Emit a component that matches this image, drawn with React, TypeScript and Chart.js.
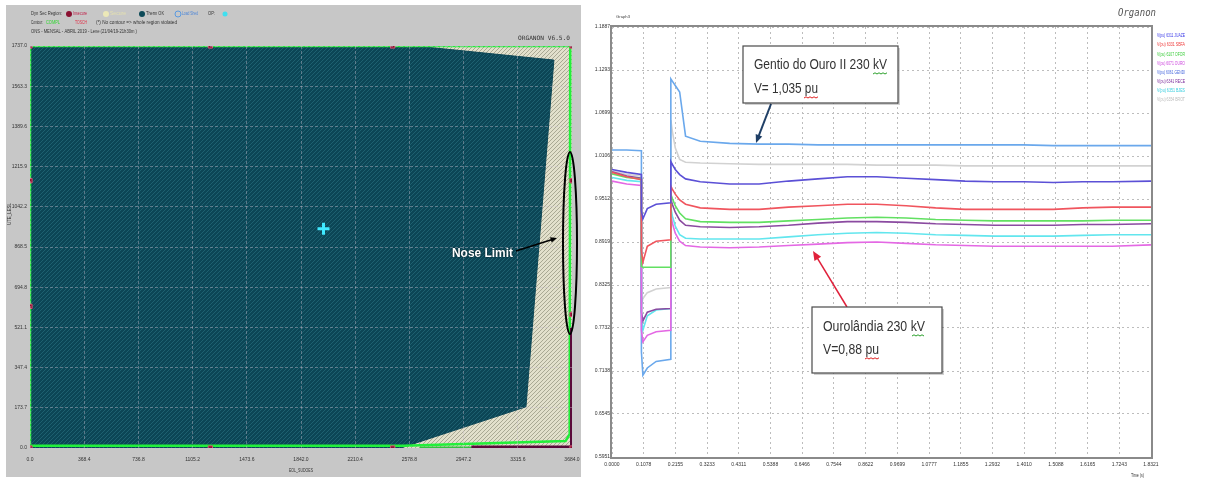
import React, { useEffect, useRef } from "react";
import { Chart, registerables } from "chart.js";
Chart.register(...registerables);

const FONT = "'Liberation Sans', Arial, sans-serif";
const MONO = "'DejaVu Sans Mono', 'Liberation Mono', monospace";

// ---------------- Left panel: dynamic security region ----------------
const REGION_X_TICKS = [0, 368.4, 736.8, 1105.2, 1473.6, 1842.0, 2210.4, 2578.8, 2947.2, 3315.6, 3684.0];
const REGION_Y_TICKS = [0, 173.7, 347.4, 521.1, 694.8, 868.5, 1042.2, 1215.9, 1389.6, 1563.3, 1737.0];
const SECURE_X = [0, 0, 2620, 3561, 3371, 2520];
const SECURE_Y = [0, 1737, 1737, 1676, 178, 0];
const CONTOUR_A_X = [0, 0, 3684];
const CONTOUR_A_Y = [8, 1737, 1737];
const CONTOUR_B_X = [0, 2540, 3640, 3668, 3672];
const CONTOUR_B_Y = [10, 10, 30, 60, 1737];
const CONTOUR_C_X = [2650, 3684];
const CONTOUR_C_Y = [2, 2];
const VIOLATED_X = [3000, 3684, 3684];
const VIOLATED_Y = [2, 2, 520];
const MARKER_X = [0, 1226, 2465, 3684, 0, 1226, 2465, 3684, 0, 0, 3684, 3684];
const MARKER_Y = [1737, 1737, 1737, 1737, 0, 0, 0, 0, 1155, 612, 1155, 577];
const OP_X = [1995];
const OP_Y = [947];

// ---------------- Right panel: voltage time series ----------------
const TIME_TICKS = [0, 0.1078, 0.2155, 0.3233, 0.4311, 0.5388, 0.6466, 0.7544, 0.8622, 0.9699, 1.0777, 1.1855, 1.2932, 1.401, 1.5088, 1.6165, 1.7243, 1.8321];
const V_TICKS = [0.5951, 0.6545, 0.7138, 0.7732, 0.8325, 0.8919, 0.9512, 1.0106, 1.0699, 1.1293, 1.1887];
const TIME = [0, 0.05, 0.1, 0.1, 0.105, 0.12, 0.15, 0.2, 0.2, 0.205, 0.215, 0.23, 0.25, 0.3, 0.4, 0.5, 0.6, 0.7, 0.8, 0.9, 1.0, 1.1, 1.2, 1.3, 1.4, 1.5, 1.6, 1.7, 1.8321];
const V_JUAZE = [0.992, 0.988, 0.985, 0.935, 0.924, 0.938, 0.944, 0.946, 1.003, 0.999, 0.992, 0.985, 0.979, 0.975, 0.972, 0.972, 0.976, 0.979, 0.982, 0.982, 0.98, 0.978, 0.976, 0.975, 0.975, 0.974, 0.975, 0.975, 0.976];
const V_SBFA = [0.988, 0.982, 0.978, 0.88, 0.864, 0.886, 0.893, 0.895, 0.969, 0.965, 0.958, 0.95, 0.944, 0.939, 0.937, 0.937, 0.94, 0.942, 0.944, 0.944, 0.942, 0.939, 0.937, 0.937, 0.937, 0.937, 0.939, 0.94, 0.94];
const V_OFOR = [0.986, 0.981, 0.979, 0.858, 0.857, 0.857, 0.857, 0.857, 0.958, 0.952, 0.942, 0.932, 0.924, 0.92, 0.919, 0.919, 0.921, 0.923, 0.925, 0.926, 0.925, 0.923, 0.922, 0.921, 0.921, 0.921, 0.921, 0.922, 0.922];
const V_OURO = [0.976, 0.972, 0.97, 0.77, 0.754, 0.763, 0.768, 0.77, 0.93, 0.918, 0.904, 0.893, 0.887, 0.885, 0.884, 0.885, 0.887, 0.889, 0.891, 0.892, 0.89, 0.888, 0.887, 0.886, 0.886, 0.886, 0.886, 0.886, 0.888];
const V_GENDI = [1.019, 1.019, 1.018, 0.74, 0.708, 0.718, 0.727, 0.73, 1.117, 1.114, 1.108, 1.099, 1.038, 1.031, 1.028, 1.027, 1.027, 1.026, 1.026, 1.026, 1.026, 1.026, 1.026, 1.026, 1.026, 1.025, 1.025, 1.025, 1.025];
const V_RECE = [0.989, 0.983, 0.98, 0.795, 0.783, 0.795, 0.799, 0.8, 0.951, 0.944, 0.933, 0.922, 0.915, 0.913, 0.912, 0.913, 0.915, 0.918, 0.92, 0.92, 0.919, 0.917, 0.916, 0.915, 0.915, 0.915, 0.916, 0.916, 0.917];
const V_BJES = [0.981, 0.977, 0.975, 0.79, 0.77, 0.79, 0.798, 0.8, 0.94, 0.928, 0.914, 0.902, 0.897, 0.896, 0.896, 0.896, 0.899, 0.902, 0.904, 0.905, 0.904, 0.902, 0.901, 0.9, 0.9, 0.9, 0.901, 0.902, 0.902];
const V_BROT = [0.99, 0.985, 0.983, 0.805, 0.814, 0.822, 0.827, 0.829, 1.06, 1.045, 1.022, 1.006, 1.002, 1.001, 1.0, 0.999, 0.999, 0.999, 0.999, 0.998, 0.998, 0.998, 0.997, 0.997, 0.997, 0.997, 0.997, 0.997, 0.997];
const SERIES_NAMES = ["V(pu) 6311 JUAZE", "V(pu) 6331 SBFA", "V(pu) 6107 OFOR", "V(pu) 6071 OURO", "V(pu) 6061 GENDI", "V(pu) 6341 RECE", "V(pu) 6351 BJES", "V(pu) 6354 BROT"];
const SERIES_VALUES = [V_JUAZE, V_SBFA, V_OFOR, V_OURO, V_GENDI, V_RECE, V_BJES, V_BROT];
const SERIES_COLORS = ["#5b50d6", "#f0555e", "#62e062", "#e468e4", "#6aa8ec", "#8a4aa0", "#62e6ee", "#d2d2d2"];
const LEGEND_COLORS = ["#3a3ae8", "#ee3a3a", "#3acc3a", "#cc44dd", "#4466dd", "#7a2a9a", "#33ccdd", "#bbbbbb"];

function pts(xs: number[], ys: number[]) {
  return xs.map((x, i) => ({ x, y: ys[i] }));
}

function makeHatch(base: string, line: string, size: number) {
  const c = document.createElement("canvas");
  c.width = size;
  c.height = size;
  const g = c.getContext("2d")!;
  g.fillStyle = base;
  g.fillRect(0, 0, size, size);
  g.strokeStyle = line;
  g.lineWidth = 1;
  g.beginPath();
  g.moveTo(-1, size + 1);
  g.lineTo(size + 1, -1);
  g.moveTo(-1, 1);
  g.lineTo(1, -1);
  g.moveTo(size - 1, size + 1);
  g.lineTo(size + 1, size - 1);
  g.stroke();
  return g.createPattern(c, "repeat")!;
}

function fitText(ctx: CanvasRenderingContext2D, text: string, x: number, y: number, w: number, font: string, color: string) {
  ctx.save();
  ctx.font = font;
  ctx.fillStyle = color;
  ctx.textBaseline = "middle";
  ctx.textAlign = "left";
  const m = ctx.measureText(text).width || 1;
  ctx.translate(x, y);
  ctx.scale(w / m, 1);
  ctx.fillText(text, 0, 0);
  ctx.restore();
}

function arrow(ctx: CanvasRenderingContext2D, x1: number, y1: number, x2: number, y2: number, color: string, width: number, head: number) {
  ctx.save();
  ctx.strokeStyle = color;
  ctx.fillStyle = color;
  ctx.lineWidth = width;
  const a = Math.atan2(y2 - y1, x2 - x1);
  ctx.beginPath();
  ctx.moveTo(x1, y1);
  ctx.lineTo(x2 - Math.cos(a) * head * 0.6, y2 - Math.sin(a) * head * 0.6);
  ctx.stroke();
  ctx.beginPath();
  ctx.moveTo(x2, y2);
  ctx.lineTo(x2 - head * Math.cos(a - 0.4), y2 - head * Math.sin(a - 0.4));
  ctx.lineTo(x2 - head * Math.cos(a + 0.4), y2 - head * Math.sin(a + 0.4));
  ctx.closePath();
  ctx.fill();
  ctx.restore();
}

function squiggle(ctx: CanvasRenderingContext2D, x1: number, x2: number, y: number, color: string) {
  ctx.save();
  ctx.strokeStyle = color;
  ctx.lineWidth = 1;
  ctx.beginPath();
  ctx.moveTo(x1, y);
  let up = true;
  for (let x = x1 + 2; x <= x2; x += 2) {
    ctx.lineTo(x, up ? y - 1.2 : y);
    up = !up;
  }
  ctx.stroke();
  ctx.restore();
}

function dot(ctx: CanvasRenderingContext2D, x: number, y: number, r: number, fill: string | null, stroke: string | null) {
  ctx.beginPath();
  ctx.arc(x, y, r, 0, Math.PI * 2);
  if (fill) {
    ctx.fillStyle = fill;
    ctx.fill();
  }
  if (stroke) {
    ctx.strokeStyle = stroke;
    ctx.lineWidth = 1;
    ctx.stroke();
  }
}

export default function App() {
  const leftRef = useRef<HTMLCanvasElement>(null);
  const rightRef = useRef<HTMLCanvasElement>(null);

  useEffect(() => {
    const darkHatch = makeHatch("#0c4656", "#1e6070", 4);
    const beigeHatch = makeHatch("#e2e0cc", "#a9a994", 4);

    // ---------- LEFT ----------
    const OX = 6, OY = 5; // canvas page offset
    const leftPlugin = {
      id: "leftDecor",
      beforeDraw(chart: any) {
        const ctx = chart.ctx;
        ctx.save();
        ctx.fillStyle = "#c7c7c7";
        ctx.fillRect(0, 0, chart.width, chart.height);
        ctx.restore();
      },
      beforeDatasetsDraw(chart: any) {
        const { ctx, chartArea: a } = chart;
        ctx.save();
        ctx.fillStyle = beigeHatch;
        ctx.fillRect(a.left, a.top, a.right - a.left, a.bottom - a.top);
        ctx.restore();
      },
      afterDraw(chart: any) {
        const ctx = chart.ctx;
        const f = (t: string, px: number, py: number, w: number, color: string, font = `5px ${FONT}`) =>
          fitText(ctx, t, px - OX, py - OY, w, font, color);
        // header
        f("Dyn Sec Region:", 31, 14, 31, "#333");
        dot(ctx, 69 - OX, 14 - OY, 3, "#8a1030", null);
        f("Insecure", 73, 14, 14, "#c02048");
        dot(ctx, 106 - OX, 14 - OY, 3, "#ece8b8", null);
        f("Secure", 110, 14, 16, "#e4e0b0");
        dot(ctx, 142 - OX, 14 - OY, 3, "#0d4a58", null);
        f("Therm OK", 146, 14, 18, "#333");
        dot(ctx, 178 - OX, 14 - OY, 3, null, "#5a9ae0");
        f("Load Shed", 182, 14, 16, "#4a84d8");
        f("OP:", 208, 14, 7, "#333");
        dot(ctx, 225 - OX, 14 - OY, 2.5, "#40e0f0", null);
        f("Contour:", 31, 23, 12, "#333");
        f("COMPL", 46, 23, 14, "#30d830");
        f("TOSCH", 75, 23, 12, "#e03048");
        f("(*) No contour => whole region violated", 96, 23, 81, "#333");
        f("ONS - MENSAL - ABRIL 2019 - Leve (21/04/19-21h30m )", 31, 32, 106, "#333");
        f("ORGANON V6.5.0", 518, 38, 52, "#333", `6px ${MONO}`);
        // axis titles
        f("EOL_SUDOES", 289, 471, 24, "#333");
        ctx.save();
        ctx.translate(10 - OX, 214 - OY);
        ctx.rotate(-Math.PI / 2);
        fitText(ctx, "UTE_LESL", -11, 0, 22, `5px ${FONT}`, "#333");
        ctx.restore();
        // nose limit annotation
        ctx.save();
        ctx.strokeStyle = "#000";
        ctx.lineWidth = 2;
        ctx.beginPath();
        ctx.ellipse(570 - OX, 243 - OY, 7, 91, 0, 0, Math.PI * 2);
        ctx.stroke();
        ctx.restore();
        arrow(ctx, 516 - OX, 251 - OY, 557 - OX, 238 - OY, "#000", 1.5, 7);
        ctx.save();
        ctx.shadowColor = "rgba(0,0,0,0.8)";
        ctx.shadowBlur = 2;
        fitText(ctx, "Nose Limit", 452 - OX, 253 - OY, 61, `bold 13px ${FONT}`, "#ffffff");
        ctx.restore();
      },
    };

    const gridLeft = {
      color: "rgba(200,190,205,0.42)",
      drawTicks: false,
      lineWidth: 1,
      z: 1,
    };

    const left = new Chart(leftRef.current!, {
      type: "scatter",
      data: {
        datasets: [
          { data: pts(OP_X, OP_Y), pointStyle: "cross", pointRadius: 6, borderWidth: 3, borderColor: "#40e8ff", backgroundColor: "#40e8ff", order: 0 } as any,
          { data: pts(MARKER_X, MARKER_Y), pointStyle: "rect", pointRadius: 3, borderWidth: 1, borderColor: "#d05070", backgroundColor: "#8a1030", order: 1 },
          { data: pts(VIOLATED_X, VIOLATED_Y), showLine: true, borderColor: "#5a0a3a", borderWidth: 4, pointRadius: 0, order: 2 },
          { data: pts(CONTOUR_A_X, CONTOUR_A_Y), showLine: true, borderColor: "#22f03a", borderWidth: 2.5, pointRadius: 0, order: 3 },
          { data: pts(CONTOUR_B_X, CONTOUR_B_Y), showLine: true, borderColor: "#22f03a", borderWidth: 2.5, pointRadius: 0, order: 3 },
          { data: pts(CONTOUR_C_X, CONTOUR_C_Y), showLine: true, borderColor: "#33c040", borderWidth: 2, pointRadius: 0, order: 3 },
          { data: pts(SECURE_X, SECURE_Y), showLine: true, fill: "shape", backgroundColor: darkHatch, borderColor: "#0c4656", borderWidth: 1, pointRadius: 0, order: 5 } as any,
        ],
      },
      options: {
        animation: false,
        responsive: false,
        maintainAspectRatio: false,
        layout: { padding: { left: 0, right: 2, top: 41, bottom: 0 } },
        plugins: { legend: { display: false }, tooltip: { enabled: false } },
        scales: {
          x: {
            type: "linear",
            min: 0,
            max: 3684,
            afterFit: (s: any) => { s.height = 29; s.paddingRight = 0; },
            afterBuildTicks: (s: any) => { s.ticks = REGION_X_TICKS.map((v) => ({ value: v })); },
            ticks: { autoSkip: false, maxRotation: 0, padding: 9, color: "#333", font: { size: 5, family: FONT }, callback: (v: any) => Number(v).toFixed(1) },
            grid: gridLeft,
            border: { display: false, dash: [3, 2] },
          },
          y: {
            type: "linear",
            min: 0,
            max: 1737,
            afterFit: (s: any) => { s.width = 24; },
            afterBuildTicks: (s: any) => { s.ticks = REGION_Y_TICKS.map((v) => ({ value: v })); },
            ticks: { autoSkip: false, padding: 3, color: "#333", font: { size: 5, family: FONT }, callback: (v: any) => Number(v).toFixed(1) },
            grid: gridLeft,
            border: { display: false, dash: [3, 2] },
          },
        } as any,
      },
      plugins: [leftPlugin],
    } as any);

    // ---------- RIGHT ----------
    const RX = 590;
    const rightPlugin = {
      id: "rightDecor",
      beforeDraw(chart: any) {
        const ctx = chart.ctx;
        ctx.save();
        ctx.fillStyle = "#ffffff";
        ctx.fillRect(0, 0, chart.width, chart.height);
        ctx.restore();
      },
      afterDraw(chart: any) {
        const { ctx, chartArea: a } = chart;
        ctx.save();
        ctx.strokeStyle = "#8a8a8a";
        ctx.lineWidth = 2;
        ctx.strokeRect(a.left - 1, a.top - 1, a.right - a.left + 2, a.bottom - a.top + 2);
        ctx.restore();
        const f = (t: string, px: number, py: number, w: number, color: string, font = `5px ${FONT}`) =>
          fitText(ctx, t, px - RX, py, w, font, color);
        f("Graph3", 616, 17, 14, "#444", `4px ${FONT}`);
        f("Organon", 1118, 13, 38, "#555", `italic 10px ${MONO}`);
        f("Time (s)", 1131, 476, 13, "#333");
        SERIES_NAMES.forEach((n, i) => f(n, 1157, 36 + i * 9.1, 28, LEGEND_COLORS[i]));

        const box = (x: number, y: number, w: number, h: number) => {
          ctx.save();
          ctx.fillStyle = "rgba(0,0,0,0.18)";
          ctx.fillRect(x - RX + 2, y + 2, w, h);
          ctx.fillStyle = "#ffffff";
          ctx.fillRect(x - RX, y, w, h);
          ctx.strokeStyle = "#4a4a4a";
          ctx.lineWidth = 1.2;
          ctx.strokeRect(x - RX, y, w, h);
          ctx.restore();
        };
        const big = `14px ${FONT}`;
        // Gentio do Ouro box
        arrow(ctx, 771 - RX, 104, 756 - RX, 143, "#1f3f66", 2, 9);
        box(743, 46, 155, 57);
        f("Gentio do Ouro II 230 kV", 754, 65, 133, "#333", big);
        f("V= 1,035 pu", 754, 89, 64, "#333", big);
        squiggle(ctx, 873 - RX, 887 - RX, 74, "#2aa02a");
        squiggle(ctx, 804 - RX, 818 - RX, 98, "#e02020");
        // Ourolandia box
        arrow(ctx, 847 - RX, 307, 813 - RX, 251, "#e0203a", 1.5, 10);
        box(812, 307, 130, 66);
        f("Ourolândia 230 kV", 823, 327, 102, "#333", big);
        f("V=0,88 pu", 823, 350, 56, "#333", big);
        squiggle(ctx, 912 - RX, 925 - RX, 336, "#2aa02a");
        squiggle(ctx, 865 - RX, 879 - RX, 359, "#e02020");
      },
    };

    const gridRight = { color: "#bdbdbd", drawTicks: false, lineWidth: 1 };

    const right = new Chart(rightRef.current!, {
      type: "scatter",
      data: {
        datasets: SERIES_VALUES.map((vals, i) => ({
          label: SERIES_NAMES[i],
          data: pts(TIME, vals),
          showLine: true,
          borderColor: SERIES_COLORS[i],
          backgroundColor: SERIES_COLORS[i],
          borderWidth: 1.6,
          pointRadius: 0,
          tension: 0,
        })),
      },
      options: {
        animation: false,
        responsive: false,
        maintainAspectRatio: false,
        layout: { padding: { left: 0, right: 54, top: 27, bottom: 0 } },
        plugins: { legend: { display: false }, tooltip: { enabled: false } },
        scales: {
          x: {
            type: "linear",
            min: 0,
            max: 1.8321,
            afterFit: (s: any) => { s.height = 25; },
            afterBuildTicks: (s: any) => { s.ticks = TIME_TICKS.map((v) => ({ value: v })); },
            ticks: { autoSkip: false, maxRotation: 0, padding: 5, color: "#333", font: { size: 5, family: FONT }, callback: (v: any) => Number(v).toFixed(4) },
            grid: gridRight,
            border: { display: false, dash: [2, 3] },
          },
          y: {
            type: "linear",
            min: 0.5951,
            max: 1.1887,
            afterFit: (s: any) => { s.width = 22; },
            afterBuildTicks: (s: any) => { s.ticks = V_TICKS.map((v) => ({ value: v })); },
            ticks: { autoSkip: false, padding: 2, color: "#333", font: { size: 5, family: FONT }, callback: (v: any) => Number(v).toFixed(4) },
            grid: gridRight,
            border: { display: false, dash: [2, 3] },
          },
        } as any,
      },
      plugins: [rightPlugin],
    } as any);

    return () => {
      left.destroy();
      right.destroy();
    };
  }, []);

  return (
    <div style={{ position: "absolute", left: 0, top: 0, width: 1205, height: 482, background: "#ffffff", overflow: "hidden" }}>
      <canvas ref={leftRef} width={575} height={472} style={{ position: "absolute", left: 6, top: 5, width: 575, height: 472 }} />
      <canvas ref={rightRef} width={615} height={482} style={{ position: "absolute", left: 590, top: 0, width: 615, height: 482 }} />
    </div>
  );
}
